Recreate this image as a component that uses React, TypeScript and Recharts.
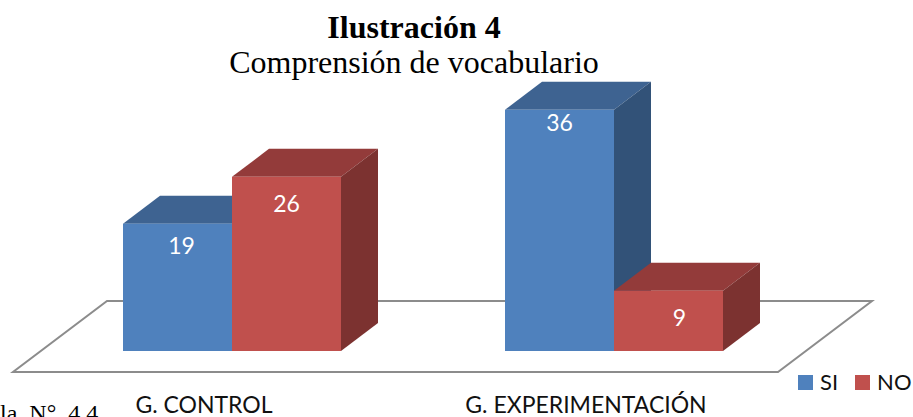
import React from 'react';
import { BarChart, Bar, XAxis, YAxis, LabelList, Legend, usePlotArea } from 'recharts';

const categories = ['G. CONTROL', 'G. EXPERIMENTACIÓN'];
const siValues = [19, 36];
const noValues = [26, 9];

const data = categories.map((name, i) => ({ name, SI: siValues[i], NO: noValues[i] }));

const DEPTH_X = 37;
const DEPTH_Y = 28;

// front, top, side shades for each series
const SHADES: Record<string, string[]> = {
    SI: ['#4F81BD', '#3E6391', '#325278'],
    NO: ['#C0504D', '#933B3A', '#7C3230'],
};

// where each value label sits: [right of bar centre, below bar top]
const LABEL_NUDGE: Record<number, number[]> = { 19: [4, 21], 26: [0, 26], 36: [0, 12], 9: [11, 26] };

const Box = ({ x, y, width, height, dataKey }: any) => {
    const [front, top, side] = SHADES[dataKey];
    const right = x + width;
    const bottom = y + height;
    return (
        <g>
            <polygon points={`${x},${y} ${x + DEPTH_X},${y - DEPTH_Y} ${right + DEPTH_X},${y - DEPTH_Y} ${right},${y}`} fill={top} />
            <polygon points={`${right},${y} ${right + DEPTH_X},${y - DEPTH_Y} ${right + DEPTH_X},${bottom - DEPTH_Y} ${right},${bottom}`} fill={side} />
            <rect x={x} y={y} width={width} height={height} fill={front} />
        </g>
    );
};

// the grey 3D floor the bars stand on
const Floor = () => {
    const plot = usePlotArea();
    if (!plot) return null;
    const base = plot.y + plot.height;
    const left = plot.x;
    const right = plot.x + plot.width;
    const points = [
        [left + 66, base - 50],
        [right + 67, base - 50],
        [right - 27, base + 21],
        [left - 28, base + 21],
    ];
    return <polygon points={points.map(p => p.join(',')).join(' ')} fill="#fff" stroke="#8C8C8C" strokeWidth={2} />;
};

const ValueLabel = ({ x, y, width, value }: any) => (
    <text x={x + width / 2 + LABEL_NUDGE[value][0]} y={y + LABEL_NUDGE[value][1]} fill="#fff" fontSize={23} fontFamily="Lato" textAnchor="middle" dominantBaseline="central">
        {value}
    </text>
);

// zero height so the legend takes no room from the plot area
const LegendRow = ({ payload }: any) => (
    <div style={{ height: 0, display: 'flex', alignItems: 'flex-start', fontFamily: 'Lato', fontSize: 22, color: '#111', lineHeight: '22px' }}>
        {payload.map((item: any) => (
            <div key={item.value} style={{ display: 'flex', alignItems: 'center', marginRight: 17 }}>
                <span style={{ width: 15, height: 15, background: item.color, marginRight: 7 }} />
                {item.value}
            </div>
        ))}
    </div>
);

export default function App() {
    return (
        <div style={{ position: 'absolute', left: 0, top: 0, width: 913, height: 417, overflow: 'hidden', background: '#fff' }}>
            <div style={{ position: 'absolute', top: 10, width: 828, textAlign: 'center', fontFamily: 'Liberation Serif', fontSize: 32, lineHeight: '35px', color: '#000' }}>
                <div style={{ fontWeight: 'bold' }}>Ilustración 4</div>
                <div>Comprensión de vocabulario</div>
            </div>
            <BarChart width={913} height={417} data={data} margin={{ top: 83, right: 108, bottom: 0, left: 41 }} barCategoryGap={82} barGap={0}>
                <Floor />
                <XAxis dataKey="name" height={66} axisLine={false} tickLine={false} interval={0} tickMargin={40} tick={{ dx: -28, fill: '#111', fontSize: 23, fontFamily: 'Lato' }} />
                <YAxis hide domain={[0, 40]} />
                <Bar dataKey="SI" fill={SHADES.SI[0]} shape={<Box dataKey="SI" />} isAnimationActive={false}>
                    <LabelList dataKey="SI" content={<ValueLabel />} />
                </Bar>
                <Bar dataKey="NO" fill={SHADES.NO[0]} shape={<Box dataKey="NO" />} isAnimationActive={false}>
                    <LabelList dataKey="NO" content={<ValueLabel />} />
                </Bar>
                <Legend content={<LegendRow />} itemSorter={null} wrapperStyle={{ left: 798, top: 371, width: 130, bottom: 'auto' }} />
            </BarChart>
            <div style={{ position: 'absolute', left: 0, top: 400, fontFamily: 'Liberation Serif', fontSize: 24, wordSpacing: 6, color: '#000', whiteSpace: 'nowrap' }}>la N° 4.4</div>
        </div>
    );
}
